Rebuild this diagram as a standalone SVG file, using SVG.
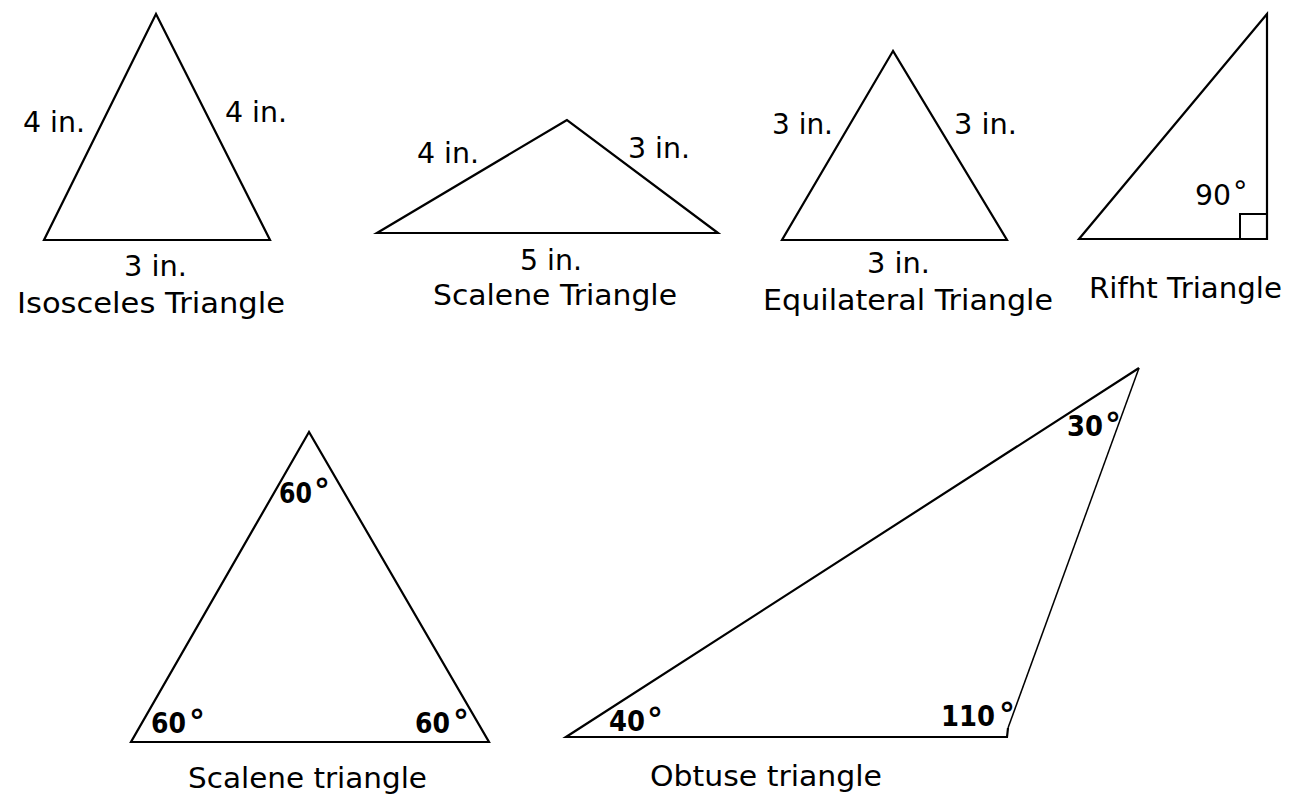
<svg xmlns="http://www.w3.org/2000/svg" width="1299" height="799" viewBox="0 0 1299 799">
<style>
.tri{fill:none;stroke:#000;stroke-width:2.2;stroke-linejoin:miter}
.lbl{font-family:"DejaVu Sans","Liberation Sans",sans-serif;font-size:29px;fill:#000}
.ang{font-family:"DejaVu Sans","Liberation Sans",sans-serif;font-weight:bold;font-size:29px;fill:#000}
.deg{font-family:"DejaVu Sans","Liberation Sans",sans-serif;font-weight:bold;font-size:32px;fill:#000}
</style>
<rect width="1299" height="799" fill="#fff"/>
<g id="isosceles">
<polygon class="tri" points="156,14 44,240 270,240"/>
<text class="lbl" x="23" y="132" textLength="62" lengthAdjust="spacingAndGlyphs">4 in.</text>
<text class="lbl" x="225" y="122" textLength="62" lengthAdjust="spacingAndGlyphs">4 in.</text>
<text class="lbl" x="124" y="276" textLength="63" lengthAdjust="spacingAndGlyphs">3 in.</text>
<text class="lbl" x="17" y="313" textLength="268" lengthAdjust="spacingAndGlyphs">Isosceles Triangle</text>
</g>
<g id="scalene-top">
<polygon class="tri" points="567,120 377,233 718,233"/>
<text class="lbl" x="417" y="163" textLength="62" lengthAdjust="spacingAndGlyphs">4 in.</text>
<text class="lbl" x="628" y="158" textLength="62" lengthAdjust="spacingAndGlyphs">3 in.</text>
<text class="lbl" x="520" y="270" textLength="62" lengthAdjust="spacingAndGlyphs">5 in.</text>
<text class="lbl" x="433" y="305" textLength="244" lengthAdjust="spacingAndGlyphs">Scalene Triangle</text>
</g>
<g id="equilateral">
<polygon class="tri" points="893,51 782,240 1007,240"/>
<text class="lbl" x="772" y="134" textLength="61" lengthAdjust="spacingAndGlyphs">3 in.</text>
<text class="lbl" x="954" y="134" textLength="63" lengthAdjust="spacingAndGlyphs">3 in.</text>
<text class="lbl" x="867" y="273" textLength="63" lengthAdjust="spacingAndGlyphs">3 in.</text>
<text class="lbl" x="763" y="310" textLength="290" lengthAdjust="spacingAndGlyphs">Equilateral Triangle</text>
</g>
<g id="right">
<polygon class="tri" points="1267,14 1079,239 1267,239"/>
<rect x="1240" y="214" width="27" height="25" fill="none" stroke="#000" stroke-width="2"/>
<text class="lbl" x="1195" y="205" textLength="36" lengthAdjust="spacingAndGlyphs">90</text>
<text class="lbl" x="1233" y="201" font-size="30">°</text>
<text class="lbl" x="1089" y="298" textLength="193" lengthAdjust="spacingAndGlyphs">Rifht Triangle</text>
</g>
<g id="scalene-bottom">
<polygon class="tri" points="309,432 131,742 489,742"/>
<text class="ang" x="279" y="503" font-size="24" textLength="33" lengthAdjust="spacingAndGlyphs">60</text>
<text class="deg" x="314" y="502" font-size="27">°</text>
<text class="ang" x="151" y="733" textLength="35" lengthAdjust="spacingAndGlyphs">60</text>
<text class="deg" x="189" y="733">°</text>
<text class="ang" x="415" y="733" textLength="35" lengthAdjust="spacingAndGlyphs">60</text>
<text class="deg" x="453" y="733">°</text>
<text class="lbl" x="188" y="788" textLength="239" lengthAdjust="spacingAndGlyphs">Scalene triangle</text>
</g>
<g id="obtuse">
<polyline points="1008,728 1139,368" fill="none" stroke="#000" stroke-width="1.5"/>
<polyline points="1139,368 566,737 1007,737 1008,728" fill="none" stroke="#000" stroke-width="2.2"/>
<text class="ang" x="1067" y="436" textLength="36" lengthAdjust="spacingAndGlyphs">30</text>
<text class="deg" x="1105" y="436">°</text>
<text class="ang" x="941" y="726" font-size="27" textLength="54" lengthAdjust="spacingAndGlyphs">110</text>
<text class="deg" x="999" y="726" font-size="30">°</text>
<text class="ang" x="609" y="731" textLength="36" lengthAdjust="spacingAndGlyphs">40</text>
<text class="deg" x="647" y="731">°</text>
<text class="lbl" x="650" y="786" textLength="232" lengthAdjust="spacingAndGlyphs">Obtuse triangle</text>
</g>
</svg>
